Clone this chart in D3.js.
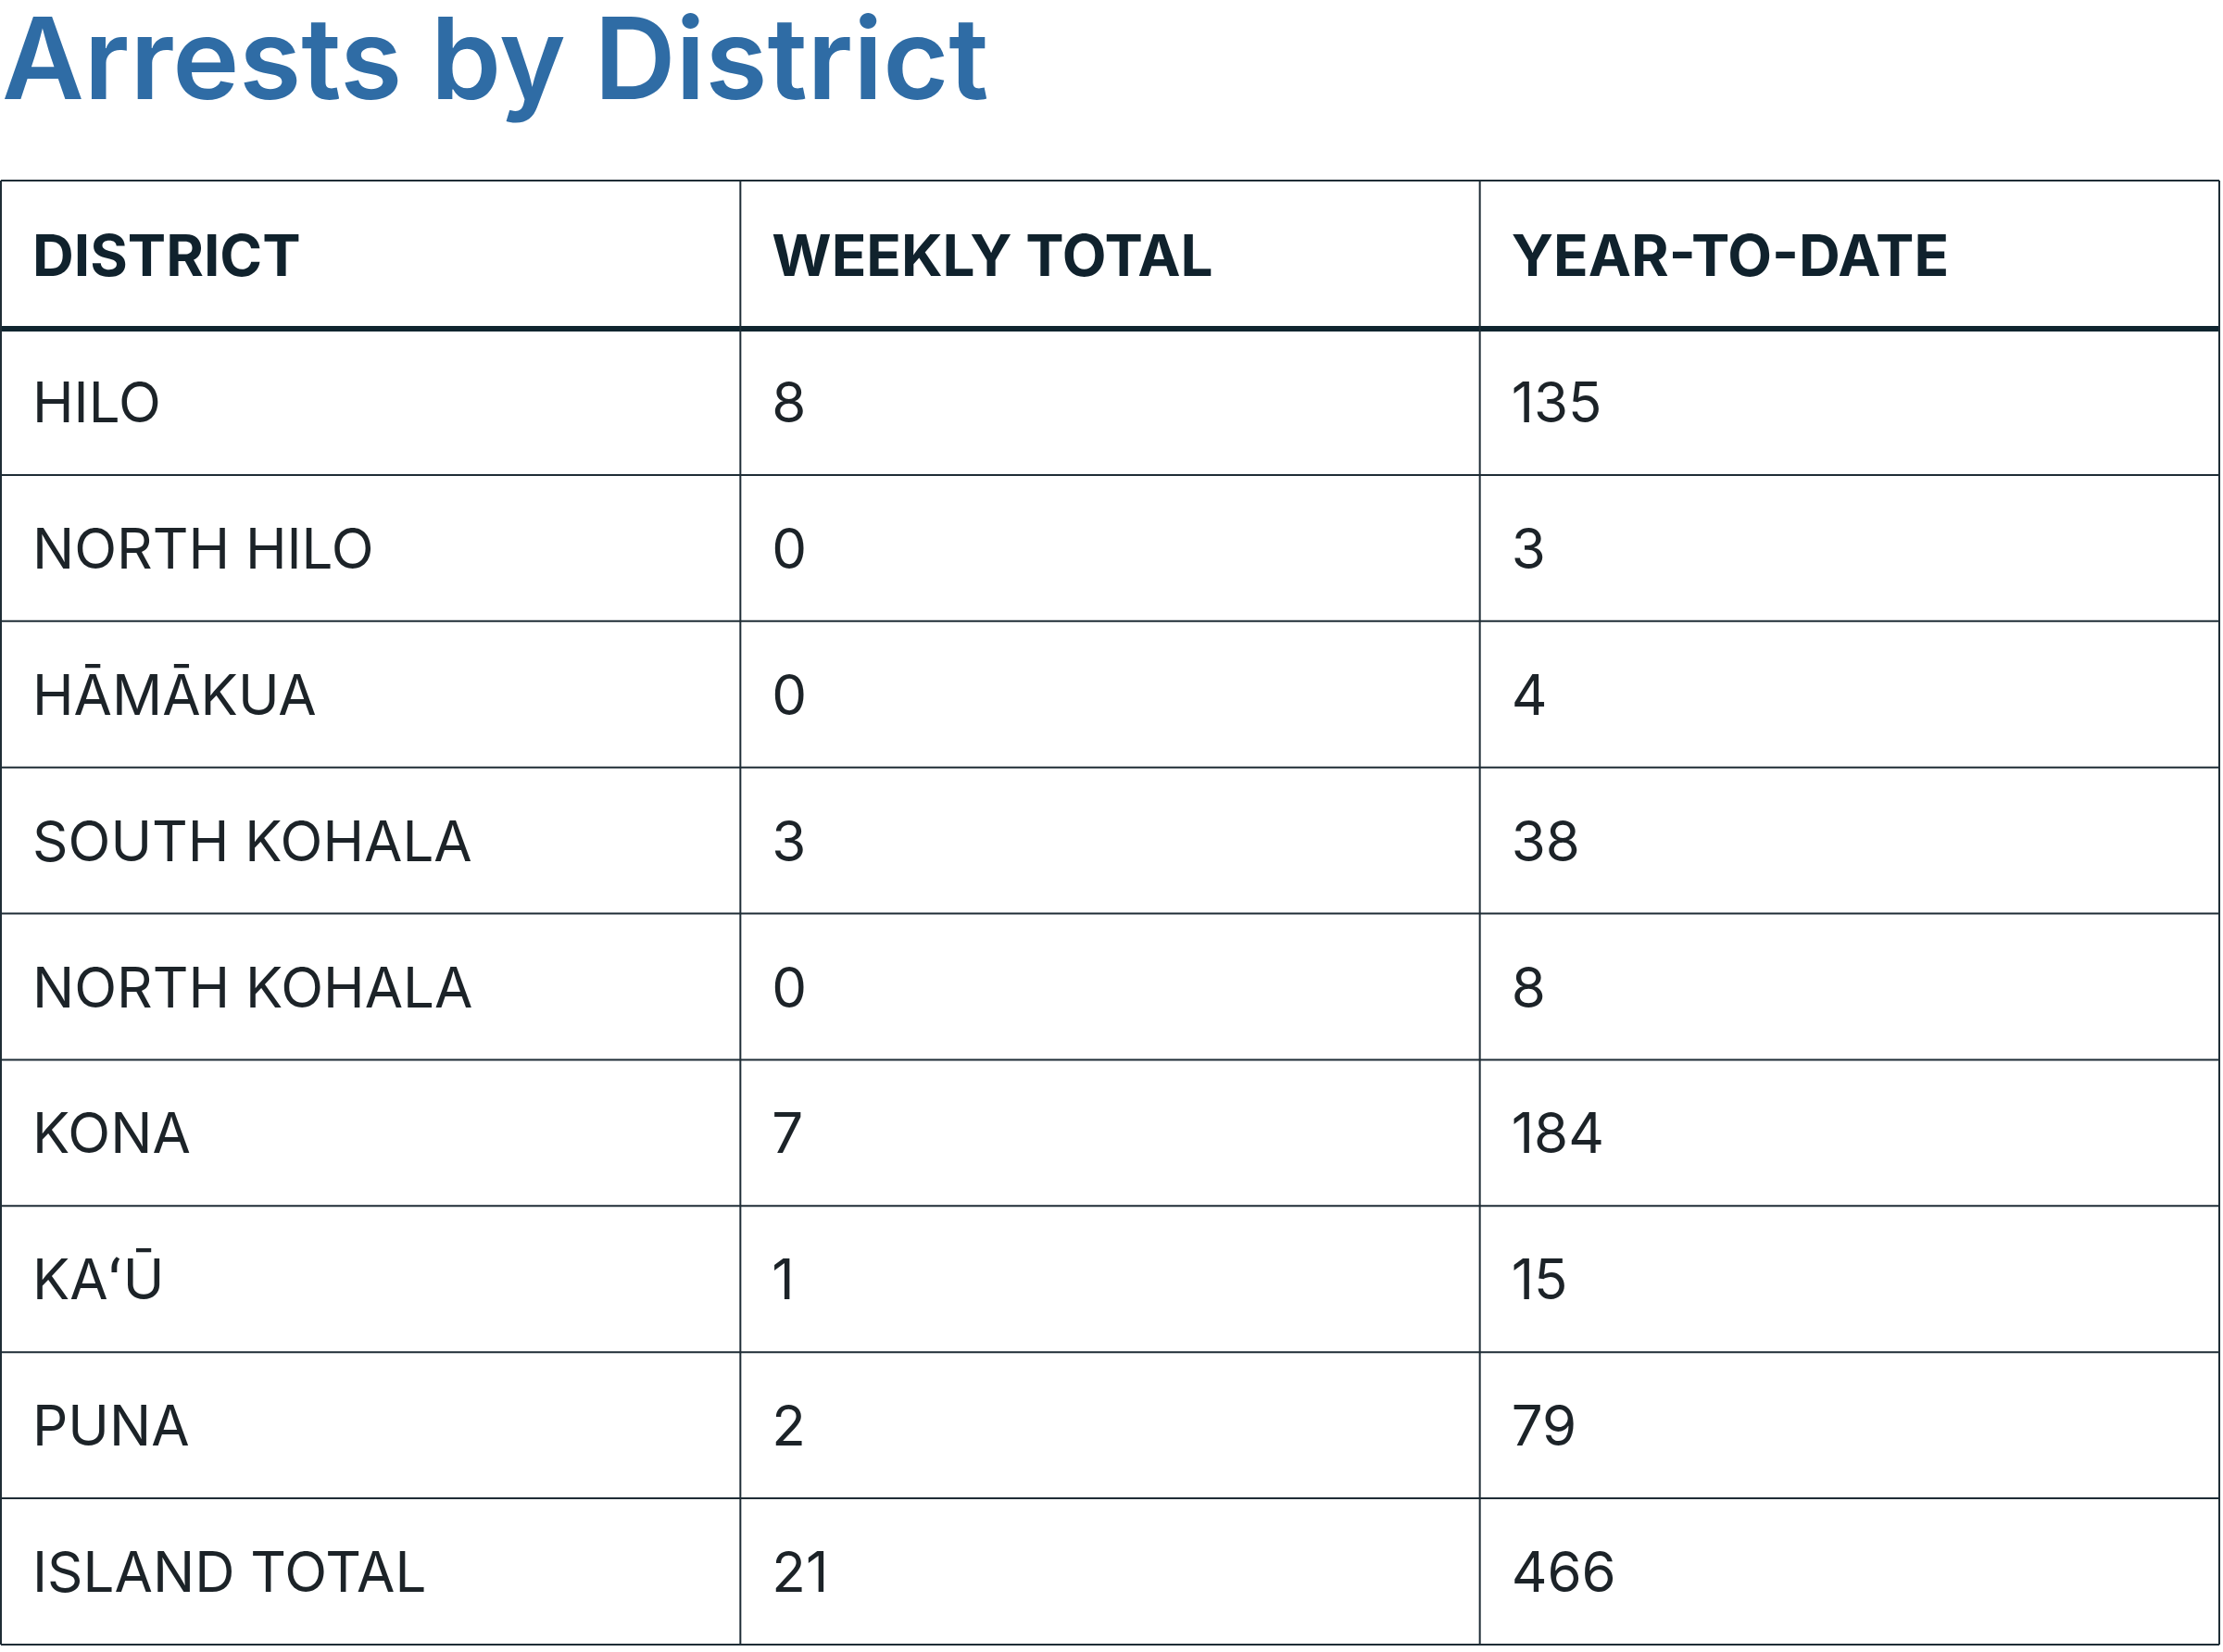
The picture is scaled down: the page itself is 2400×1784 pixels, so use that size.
<!DOCTYPE html>
<html><head><meta charset="utf-8">
<script src="https://cdn.jsdelivr.net/npm/d3@7"></script>
<style>body{margin:0;background:#fff}</style>
</head><body><div id="chart"></div>
<script>
var headers = ["DISTRICT", "WEEKLY TOTAL", "YEAR-TO-DATE"];
var districts = ["HILO", "NORTH HILO", "HĀMĀKUA", "SOUTH KOHALA", "NORTH KOHALA", "KONA", "KAʻŪ", "PUNA", "ISLAND TOTAL"];
var weekly = [8, 0, 0, 3, 0, 7, 1, 2, 21];
var ytd = [135, 3, 4, 38, 8, 184, 15, 79, 466];

var W = 2400, H = 1784;
var svg = d3.select("#chart").append("svg").attr("width", W).attr("height", H)
  .style("font-family", "Inter, 'Noto Sans', sans-serif");

svg.append("text").attr("x", 2).attr("y", 107)
  .attr("font-size", 122).attr("font-weight", 600).attr("fill", "#2f6ca5")
  .text("Arrests by District");

var x = d3.scaleBand().domain(d3.range(3)).range([1, 2396]);
var tableTop = 195, headH = 160, tableBottom = 1776;
var y = d3.scaleBand().domain(d3.range(districts.length)).range([tableTop + headH, tableBottom]);
var rows = districts.map(function(d, i){ return [d, weekly[i], ytd[i]]; });
var line = "#1f2d36";

// row lines
svg.selectAll("line.row").data(d3.range(districts.length + 1)).enter().append("line")
  .attr("x1", 1).attr("x2", 2396)
  .attr("y1", function(i){ return i === districts.length ? tableBottom : y(i); })
  .attr("y2", function(i){ return i === districts.length ? tableBottom : y(i); })
  .attr("stroke", function(i){ return i === 0 ? "#10252f" : line; })
  .attr("stroke-width", function(i){ return i === 0 ? 6 : 2; });
svg.append("line").attr("x1", 1).attr("x2", 2396).attr("y1", tableTop).attr("y2", tableTop)
  .attr("stroke", line).attr("stroke-width", 2);
// column lines
svg.selectAll("line.col").data([0, 1, 2, 3]).enter().append("line")
  .attr("x1", function(i){ return i === 3 ? 2396 : x(i); })
  .attr("x2", function(i){ return i === 3 ? 2396 : x(i); })
  .attr("y1", tableTop).attr("y2", tableBottom)
  .attr("stroke", line).attr("stroke-width", 2);

svg.selectAll("text.head").data(headers).enter().append("text")
  .attr("x", function(d, i){ return x(i) + 34; }).attr("y", tableTop + headH / 2 + 23)
  .attr("font-size", 62).attr("font-weight", 700).attr("fill", "#10222d")
  .text(function(d){ return d; });

rows.forEach(function(r, ri){
  svg.selectAll(null).data(r).enter().append("text")
    .attr("x", function(d, i){ return x(i) + 34; })
    .attr("y", y(ri) + y.bandwidth() / 2 + 22)
    .attr("font-size", 60).attr("fill", "#1c2328")
    .text(function(d){ return d; });
});
</script></body></html>
